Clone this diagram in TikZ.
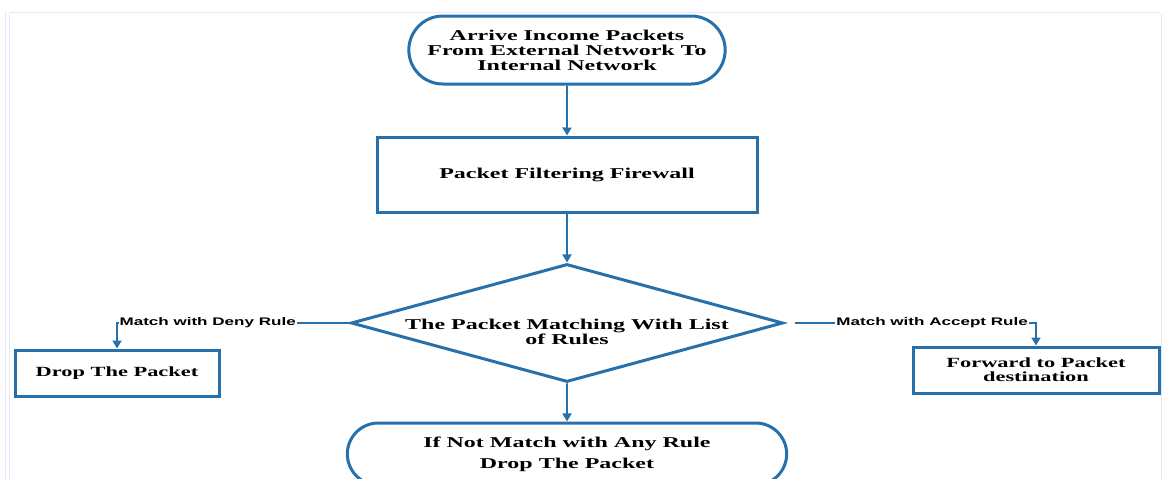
\documentclass[tikz,border=0pt]{standalone}
\usepackage{fontspec}
\newfontfamily\boxfont[FakeStretch=1.6]{Liberation Serif}
\newfontfamily\tagfont[FakeStretch=1.55]{Liberation Sans}
\usetikzlibrary{positioning,shapes.geometric,shapes.misc}
\usetikzlibrary{arrows.meta}
\definecolor{flowBlue}{RGB}{38,112,172}
\colorlet{frameLine}{blue!10}
\tikzset{%
  % Specifications for style of nodes:
    >={Triangle[width=9pt,length=8pt]},
    baseShape/.style = {draw=flowBlue, line width=3pt, fill=white, align=center, font=\boxfont\bfseries\fontsize{15}{15}\selectfont},
    terminalShape/.style = {baseShape, rounded rectangle},
    processShape/.style = {baseShape, rectangle},
    sideShape/.style = {processShape, font=\boxfont\bfseries\fontsize{14}{14}\selectfont},
    decisionShape/.style = {baseShape, diamond},
    flowArrow/.style = {->, draw=flowBlue, line width=1.8pt},
    ruleTag/.style = {font=\tagfont\bfseries\fontsize{11}{12}\selectfont, fill=white, inner sep=1pt},
}

\begin{document}
\begin{tikzpicture}[x=1pt,y=1pt]
	\useasboundingbox (0,0) rectangle (1163,-479);
	\draw[frameLine, line width=1pt] (5,-12) -- (5,-479);
	\draw[frameLine, line width=1pt] (9,-14) -- (9,-479) (9,-12) -- (1160,-12);
	\draw[frameLine, line width=1pt] (1161,-14) -- (1161,-479);

	\node [terminalShape, minimum width=323, minimum height=68] (arrive) at (567,-50) {Arrive Income Packets\\From External Network To\\Internal Network};
	\node [processShape, minimum width=380, minimum height=75, below=50 of arrive] (firewall) {Packet Filtering Firewall};
	\node [decisionShape, minimum width=432, minimum height=118, below=49 of firewall] (matching) {};
	\node [font=\boxfont\bfseries\fontsize{15}{15}\selectfont, align=center] (matchingText) at ([yshift=-9]matching.center) {The Packet Matching With List\\of Rules};
	\node [terminalShape, minimum width=446, minimum height=62, below=38 of matching] (noMatch) {If Not Match with Any Rule\\[6pt]Drop The Packet};

	\node [sideShape, minimum width=204, minimum height=46] (drop) at (117,-373) {Drop The Packet};
	\node [sideShape, minimum width=246, minimum height=46] (forward) at (1036,-370) {Forward to Packet\\destination};

	\draw[flowArrow] (arrive) -- (firewall);
	\draw[flowArrow] (firewall) -- (matching);
	\draw[flowArrow] (matching) -- (noMatch);

	\draw[flowArrow] (matching.west) -- node[ruleTag, pos=0.61] (denyTag) {Match with Deny Rule} (drop.north |- matching.west) -- (drop.north);
	\draw[flowArrow] ([xshift=10]matching.east) -- node[ruleTag, pos=0.57] (acceptTag) {Match with Accept Rule} (forward.north |- matching.east) -- (forward.north);

\end{tikzpicture}
\end{document}
